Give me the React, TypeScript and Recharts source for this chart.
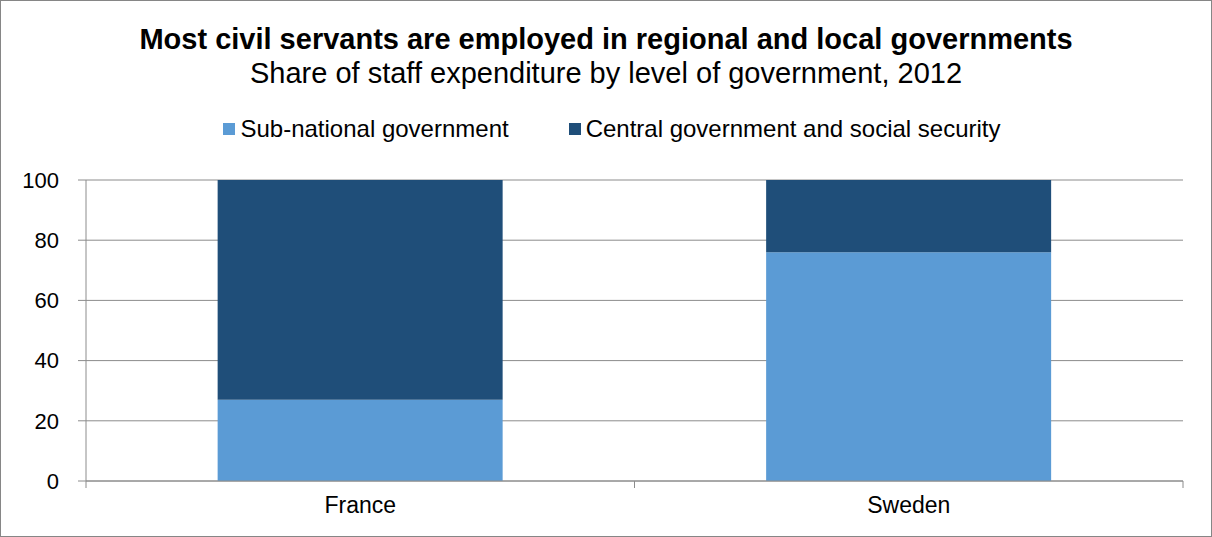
import React from "react";
import { Bar, BarChart, CartesianGrid, XAxis, YAxis } from "recharts";

const SUB_BLUE = "#5B9BD5";
const CENTRAL_BLUE = "#1F4E79";
const AXIS_GREY = "#8c8c8c";
const FONT = "'Liberation Sans', Arial, sans-serif";

const countries = ["France", "Sweden"];
const subNational = [27, 76];
const central = [73, 24];
const yTicks = [0, 20, 40, 60, 80, 100];
const edgeTicks = [0, 1, 2];

const data = countries.map((country, i) => ({
  country,
  sub: subNational[i],
  central: central[i],
  idx: i + 0.5,
}));

const legendItems = [
  { label: "Sub-national government", color: SUB_BLUE },
  { label: "Central government and social security", color: CENTRAL_BLUE },
];

const noTick = () => <g />;

export default function App() {
  return (
    <div
      style={{
        position: "relative",
        width: 1212,
        height: 537,
        boxSizing: "border-box",
        border: "1px solid #868686",
        background: "#fff",
        fontFamily: FONT,
      }}
    >
      <style>{`body{margin:0}`}</style>
      <div
        style={{
          position: "absolute",
          top: 22,
          left: 0,
          width: "100%",
          textAlign: "center",
          fontSize: 29,
          fontWeight: 700,
          lineHeight: "32px",
        }}
      >
        Most civil servants are employed in regional and local governments
      </div>
      <div
        style={{
          position: "absolute",
          top: 56,
          left: 0,
          width: "100%",
          textAlign: "center",
          fontSize: 29,
          lineHeight: "32px",
        }}
      >
        Share of staff expenditure by level of government, 2012
      </div>
      <div
        style={{
          position: "absolute",
          top: 113,
          left: 6,
          width: "100%",
          display: "flex",
          justifyContent: "center",
          gap: 60,
          fontSize: 24,
          lineHeight: "30px",
        }}
      >
        {legendItems.map((item) => (
          <div key={item.label} style={{ display: "flex", alignItems: "center" }}>
            <span
              style={{
                display: "inline-block",
                width: 12,
                height: 12,
                background: item.color,
                marginRight: 5,
              }}
            />
            {item.label}
          </div>
        ))}
      </div>
      <div style={{ position: "absolute", top: -1, left: -1 }}>
        <BarChart
          width={1212}
          height={537}
          data={data}
          margin={{ top: 180, right: 29, bottom: 25, left: 26 }}
          barCategoryGap="24%"
        >
          <CartesianGrid vertical={false} stroke={AXIS_GREY} />
          <XAxis
            xAxisId="b"
            dataKey="country"
            axisLine={false}
            tickLine={false}
            tick={{ fill: "#000", fontSize: 23, fontFamily: FONT }}
            tickMargin={9}
            height={30}
          />
          <XAxis
            xAxisId="a"
            type="number"
            dataKey="idx"
            domain={[0, 2]}
            ticks={edgeTicks}
            axisLine={{ stroke: AXIS_GREY }}
            tick={noTick}
            tickLine={{ stroke: AXIS_GREY }}
            tickSize={7}
            height={1}
          />
          <YAxis
            width={60}
            domain={[0, 100]}
            ticks={yTicks}
            axisLine={{ stroke: AXIS_GREY }}
            tickLine={{ stroke: AXIS_GREY }}
            tickSize={8}
            tickMargin={19}
            tick={{ fill: "#000", fontSize: 22, fontFamily: FONT }}
          />
          <Bar
            dataKey="sub"
            xAxisId="b"
            stackId="a"
            fill={SUB_BLUE}
            isAnimationActive={false}
          />
          <Bar
            dataKey="central"
            xAxisId="b"
            stackId="a"
            fill={CENTRAL_BLUE}
            isAnimationActive={false}
          />
        </BarChart>
      </div>
    </div>
  );
}
